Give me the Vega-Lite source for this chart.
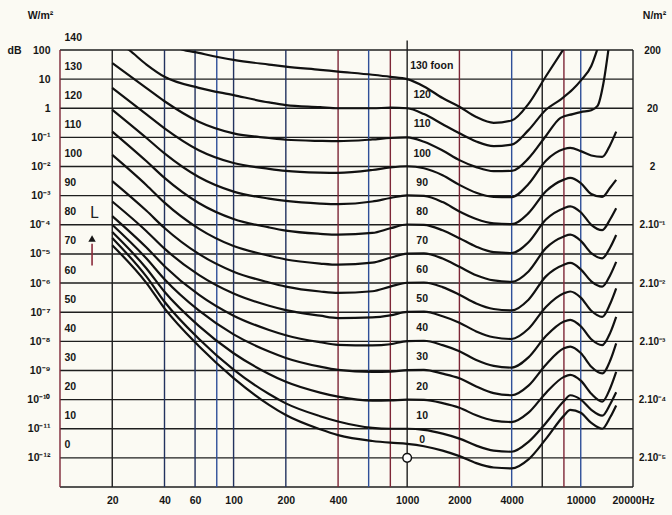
{
  "$schema": "https://vega.github.io/schema/vega-lite/v6.json",
  "width": 573,
  "height": 437,
  "autosize": {"type": "none"},
  "padding": {"left": 60, "top": 50, "right": 39, "bottom": 28},
  "background": "#fbfaf3",
  "config": {
    "view": {"stroke": null},
    "font": "Liberation Sans",
    "axis": {"domain": false, "ticks": false, "grid": false, "labelFont": "Liberation Sans", "labelFontWeight": "bold", "labelFontSize": 10.5, "labelColor": "#161616", "titleFont": "Liberation Sans", "titleFontWeight": "bold", "titleFontSize": 10.5, "titleColor": "#161616", "labelOverlap": false, "labelFlush": false}
  },
  "datasets": {
    "levels": [{"d":-10},{"d":0},{"d":10},{"d":20},{"d":30},{"d":40},{"d":50},{"d":60},{"d":70},{"d":80},{"d":90},{"d":100},{"d":110},{"d":120},{"d":130},{"d":140}],
    "vblack": [{"f":20},{"f":1000},{"f":6000},{"f":20000}],
    "vnavy": [{"f":40},{"f":60},{"f":100},{"f":200}],
    "vblue": [{"f":80},{"f":600},{"f":4000},{"f":10000}],
    "vmaroon": [{"f":10},{"f":400},{"f":800},{"f":2000},{"f":8000}],
    "stub": [{"f":1000,"lo":140,"hi":143.3}],
    "labels": [{"t":"120","d":120},{"t":"110","d":110},{"t":"100","d":100},{"t":"90","d":90},{"t":"80","d":80},{"t":"70","d":70},{"t":"60","d":60},{"t":"50","d":50},{"t":"40","d":40},{"t":"30","d":30},{"t":"20","d":20},{"t":"10","d":10},{"t":"0","d":1.5}],
    "foon": [{"t":"130 foon","d":130}],
    "ref": [{"f":1000,"d":0}],
    "ann": [{"f":15.3,"lo":66,"hi":73.5,"tip":75.3,"lab":84.2,"t":"L"}],
    "curves": [
      {"p":0,"f":20,"d":73},{"p":0,"f":31.5,"d":60},{"p":0,"f":40,"d":51.3},{"p":0,"f":63,"d":38.4},{"p":0,"f":100,"d":27.4},{"p":0,"f":160,"d":18.2},{"p":0,"f":200,"d":14.7},{"p":0,"f":315,"d":9.8},{"p":0,"f":400,"d":7.8},{"p":0,"f":630,"d":5.8},{"p":0,"f":800,"d":5.2},{"p":0,"f":1000,"d":4.8},{"p":0,"f":1250,"d":4},{"p":0,"f":1600,"d":2.5},{"p":0,"f":2000,"d":0.6},{"p":0,"f":2500,"d":-1.8},{"p":0,"f":3150,"d":-3.3},{"p":0,"f":4000,"d":-3.6},{"p":0,"f":5000,"d":-0.5},{"p":0,"f":6300,"d":6.5},{"p":0,"f":8000,"d":14.5},{"p":0,"f":8700,"d":16.5},{"p":0,"f":10000,"d":15.5},{"p":0,"f":11500,"d":12},{"p":0,"f":13300,"d":10},{"p":0,"f":14800,"d":14},{"p":0,"f":16000,"d":18},
      {"p":10,"f":20,"d":75.5},{"p":10,"f":31.5,"d":62.2},{"p":10,"f":40,"d":53.6},{"p":10,"f":63,"d":40.9},{"p":10,"f":100,"d":30.3},{"p":10,"f":160,"d":21.9},{"p":10,"f":200,"d":18.7},{"p":10,"f":315,"d":14.3},{"p":10,"f":400,"d":12.5},{"p":10,"f":630,"d":10.3},{"p":10,"f":800,"d":10},{"p":10,"f":1000,"d":10},{"p":10,"f":1250,"d":9.6},{"p":10,"f":1600,"d":8.3},{"p":10,"f":2000,"d":6.6},{"p":10,"f":2500,"d":4.2},{"p":10,"f":3150,"d":2.5},{"p":10,"f":4000,"d":2.1},{"p":10,"f":5000,"d":5.5},{"p":10,"f":6300,"d":12},{"p":10,"f":8000,"d":19.5},{"p":10,"f":8700,"d":21.5},{"p":10,"f":10000,"d":20},{"p":10,"f":11500,"d":16.5},{"p":10,"f":13300,"d":14.5},{"p":10,"f":14800,"d":18.5},{"p":10,"f":16000,"d":22.5},
      {"p":20,"f":20,"d":77.5},{"p":20,"f":31.5,"d":65},{"p":20,"f":40,"d":57},{"p":20,"f":63,"d":45.3},{"p":20,"f":100,"d":35.9},{"p":20,"f":160,"d":28.8},{"p":20,"f":200,"d":26.1},{"p":20,"f":315,"d":22.4},{"p":20,"f":400,"d":21},{"p":20,"f":630,"d":19.6},{"p":20,"f":800,"d":19.7},{"p":20,"f":1000,"d":20},{"p":20,"f":1250,"d":19.9},{"p":20,"f":1600,"d":18.8},{"p":20,"f":2000,"d":17.2},{"p":20,"f":2500,"d":14.6},{"p":20,"f":3150,"d":12.8},{"p":20,"f":4000,"d":12.3},{"p":20,"f":5000,"d":15.5},{"p":20,"f":6300,"d":22.3},{"p":20,"f":8000,"d":27.8},{"p":20,"f":8700,"d":28.5},{"p":20,"f":10000,"d":26.5},{"p":20,"f":11500,"d":22},{"p":20,"f":13300,"d":19.3},{"p":20,"f":14800,"d":24},{"p":20,"f":16000,"d":29.5},
      {"p":30,"f":20,"d":80},{"p":30,"f":31.5,"d":68.4},{"p":30,"f":40,"d":61.3},{"p":30,"f":63,"d":50.6},{"p":30,"f":100,"d":42.4},{"p":30,"f":160,"d":36.5},{"p":30,"f":200,"d":34.3},{"p":30,"f":315,"d":31.3},{"p":30,"f":400,"d":30.2},{"p":30,"f":630,"d":29.5},{"p":30,"f":800,"d":29.6},{"p":30,"f":1000,"d":30.1},{"p":30,"f":1250,"d":30.2},{"p":30,"f":1600,"d":28.9},{"p":30,"f":2000,"d":27.3},{"p":30,"f":2500,"d":24.5},{"p":30,"f":3150,"d":22.2},{"p":30,"f":4000,"d":21.5},{"p":30,"f":5000,"d":24.8},{"p":30,"f":6300,"d":32},{"p":30,"f":8000,"d":37.6},{"p":30,"f":8700,"d":38.2},{"p":30,"f":10000,"d":36},{"p":30,"f":11500,"d":31.3},{"p":30,"f":13300,"d":29},{"p":30,"f":14800,"d":33.5},{"p":30,"f":16000,"d":39.3},
      {"p":40,"f":20,"d":83},{"p":40,"f":31.5,"d":72.2},{"p":40,"f":40,"d":65.8},{"p":40,"f":63,"d":56},{"p":40,"f":100,"d":48.8},{"p":40,"f":160,"d":43.9},{"p":40,"f":200,"d":42.1},{"p":40,"f":315,"d":39.7},{"p":40,"f":400,"d":38.8},{"p":40,"f":630,"d":38.6},{"p":40,"f":800,"d":39},{"p":40,"f":1000,"d":40.1},{"p":40,"f":1250,"d":40.2},{"p":40,"f":1600,"d":38.7},{"p":40,"f":2000,"d":36.6},{"p":40,"f":2500,"d":33.6},{"p":40,"f":3150,"d":31.6},{"p":40,"f":4000,"d":31},{"p":40,"f":5000,"d":34.5},{"p":40,"f":6300,"d":41.8},{"p":40,"f":8000,"d":46.8},{"p":40,"f":8700,"d":47.4},{"p":40,"f":10000,"d":45.2},{"p":40,"f":11500,"d":40.7},{"p":40,"f":13300,"d":38.7},{"p":40,"f":14800,"d":43},{"p":40,"f":16000,"d":48.4},
      {"p":50,"f":20,"d":88},{"p":50,"f":31.5,"d":77.8},{"p":50,"f":40,"d":71.8},{"p":50,"f":63,"d":62.8},{"p":50,"f":100,"d":56.4},{"p":50,"f":160,"d":52.2},{"p":50,"f":200,"d":50.7},{"p":50,"f":315,"d":48.8},{"p":50,"f":400,"d":48},{"p":50,"f":630,"d":48.2},{"p":50,"f":800,"d":48.9},{"p":50,"f":1000,"d":50.1},{"p":50,"f":1250,"d":50.2},{"p":50,"f":1600,"d":48.6},{"p":50,"f":2000,"d":46.4},{"p":50,"f":2500,"d":43.4},{"p":50,"f":3150,"d":41.4},{"p":50,"f":4000,"d":40.8},{"p":50,"f":5000,"d":44.3},{"p":50,"f":6300,"d":51.8},{"p":50,"f":8000,"d":56.5},{"p":50,"f":8700,"d":57.1},{"p":50,"f":10000,"d":55},{"p":50,"f":11500,"d":50.5},{"p":50,"f":13300,"d":48.4},{"p":50,"f":14800,"d":53},{"p":50,"f":16000,"d":58.2},
      {"p":60,"f":20,"d":95},{"p":60,"f":31.5,"d":84.8},{"p":60,"f":40,"d":78.9},{"p":60,"f":63,"d":70},{"p":60,"f":100,"d":63.9},{"p":60,"f":160,"d":60.2},{"p":60,"f":200,"d":58.8},{"p":60,"f":315,"d":57.1},{"p":60,"f":400,"d":56.6},{"p":60,"f":630,"d":57.2},{"p":60,"f":800,"d":58.8},{"p":60,"f":1000,"d":60.1},{"p":60,"f":1250,"d":60.2},{"p":60,"f":1600,"d":58.6},{"p":60,"f":2000,"d":56},{"p":60,"f":2500,"d":53},{"p":60,"f":3150,"d":51.1},{"p":60,"f":4000,"d":50.6},{"p":60,"f":5000,"d":54.3},{"p":60,"f":6300,"d":62.3},{"p":60,"f":8000,"d":66.3},{"p":60,"f":8700,"d":66.9},{"p":60,"f":10000,"d":64.7},{"p":60,"f":11500,"d":60.6},{"p":60,"f":13300,"d":58.8},{"p":60,"f":14800,"d":62.8},{"p":60,"f":16000,"d":67.3},
      {"p":70,"f":20,"d":104},{"p":70,"f":31.5,"d":93.6},{"p":70,"f":40,"d":87.6},{"p":70,"f":63,"d":78.7},{"p":70,"f":100,"d":72.7},{"p":70,"f":160,"d":69.4},{"p":70,"f":200,"d":68.1},{"p":70,"f":315,"d":66.7},{"p":70,"f":400,"d":66.3},{"p":70,"f":630,"d":67},{"p":70,"f":800,"d":68.7},{"p":70,"f":1000,"d":70.1},{"p":70,"f":1250,"d":70.2},{"p":70,"f":1600,"d":68.4},{"p":70,"f":2000,"d":65.6},{"p":70,"f":2500,"d":62.7},{"p":70,"f":3150,"d":60.9},{"p":70,"f":4000,"d":60.4},{"p":70,"f":5000,"d":64},{"p":70,"f":6300,"d":72},{"p":70,"f":8000,"d":76},{"p":70,"f":8700,"d":76.6},{"p":70,"f":10000,"d":74.5},{"p":70,"f":11500,"d":70.3},{"p":70,"f":13300,"d":68.5},{"p":70,"f":14800,"d":72.3},{"p":70,"f":16000,"d":76.5},
      {"p":80,"f":20,"d":112},{"p":80,"f":31.5,"d":101.8},{"p":80,"f":40,"d":96.1},{"p":80,"f":63,"d":87.5},{"p":80,"f":100,"d":82},{"p":80,"f":160,"d":79.1},{"p":80,"f":200,"d":78},{"p":80,"f":315,"d":76.9},{"p":80,"f":400,"d":76.6},{"p":80,"f":630,"d":77.2},{"p":80,"f":800,"d":78.8},{"p":80,"f":1000,"d":80.1},{"p":80,"f":1250,"d":80},{"p":80,"f":1600,"d":78.1},{"p":80,"f":2000,"d":75.4},{"p":80,"f":2500,"d":72.5},{"p":80,"f":3150,"d":70.6},{"p":80,"f":4000,"d":70.3},{"p":80,"f":5000,"d":74},{"p":80,"f":6300,"d":81.8},{"p":80,"f":8000,"d":85.7},{"p":80,"f":8700,"d":86.3},{"p":80,"f":10000,"d":84.3},{"p":80,"f":11500,"d":80},{"p":80,"f":13300,"d":78.2},{"p":80,"f":14800,"d":82},{"p":80,"f":16000,"d":85.7},
      {"p":90,"f":20,"d":119.5},{"p":90,"f":31.5,"d":109.8},{"p":90,"f":40,"d":104.5},{"p":90,"f":63,"d":96.4},{"p":90,"f":100,"d":91.4},{"p":90,"f":160,"d":89},{"p":90,"f":200,"d":88.2},{"p":90,"f":315,"d":87.3},{"p":90,"f":400,"d":87.1},{"p":90,"f":630,"d":88},{"p":90,"f":800,"d":89.2},{"p":90,"f":1000,"d":90.1},{"p":90,"f":1250,"d":89.9},{"p":90,"f":1600,"d":87.8},{"p":90,"f":2000,"d":84.6},{"p":90,"f":2500,"d":82},{"p":90,"f":3150,"d":80.5},{"p":90,"f":4000,"d":80.2},{"p":90,"f":5000,"d":84},{"p":90,"f":6300,"d":91.5},{"p":90,"f":8000,"d":95.5},{"p":90,"f":8700,"d":96.1},{"p":90,"f":10000,"d":94.3},{"p":90,"f":11500,"d":90.6},{"p":90,"f":13300,"d":89.6},{"p":90,"f":14800,"d":92.8},{"p":90,"f":16000,"d":95.4},
      {"p":100,"f":20,"d":127},{"p":100,"f":31.5,"d":117.9},{"p":100,"f":40,"d":113.1},{"p":100,"f":63,"d":105.6},{"p":100,"f":100,"d":101.2},{"p":100,"f":160,"d":99.2},{"p":100,"f":200,"d":98.5},{"p":100,"f":315,"d":97.9},{"p":100,"f":400,"d":97.8},{"p":100,"f":630,"d":98.8},{"p":100,"f":800,"d":99.7},{"p":100,"f":1000,"d":100.1},{"p":100,"f":1250,"d":99.4},{"p":100,"f":1600,"d":97},{"p":100,"f":2000,"d":93.7},{"p":100,"f":2500,"d":91},{"p":100,"f":3150,"d":89.6},{"p":100,"f":4000,"d":89.5},{"p":100,"f":5000,"d":94},{"p":100,"f":6300,"d":102},{"p":100,"f":8000,"d":106},{"p":100,"f":8700,"d":106.4},{"p":100,"f":10000,"d":105.3},{"p":100,"f":11500,"d":103.8},{"p":100,"f":13300,"d":103.3},{"p":100,"f":14800,"d":107.5},{"p":100,"f":16000,"d":112},
      {"p":110,"f":20,"d":135.5},{"p":110,"f":31.5,"d":126.9},{"p":110,"f":40,"d":122.4},{"p":110,"f":63,"d":115.4},{"p":110,"f":100,"d":111.4},{"p":110,"f":160,"d":109.8},{"p":110,"f":200,"d":109.2},{"p":110,"f":315,"d":108.8},{"p":110,"f":400,"d":108.7},{"p":110,"f":630,"d":109.3},{"p":110,"f":800,"d":109.8},{"p":110,"f":1000,"d":110},{"p":110,"f":1250,"d":108.5},{"p":110,"f":1600,"d":105.5},{"p":110,"f":2000,"d":102.2},{"p":110,"f":2500,"d":99.8},{"p":110,"f":3150,"d":98.4},{"p":110,"f":4000,"d":98.5},{"p":110,"f":5000,"d":102.8},{"p":110,"f":6300,"d":110.5},{"p":110,"f":7650,"d":116.7},{"p":110,"f":9000,"d":118},{"p":110,"f":10000,"d":118.7},{"p":110,"f":11500,"d":119.3},{"p":110,"f":12500,"d":120.8},{"p":110,"f":13500,"d":128.5},{"p":110,"f":14500,"d":141},
      {"p":120,"f":20,"d":144},{"p":120,"f":25,"d":140},{"p":120,"f":31.5,"d":135},{"p":120,"f":40,"d":130.8},{"p":120,"f":63,"d":127},{"p":120,"f":100,"d":124.5},{"p":120,"f":160,"d":122},{"p":120,"f":200,"d":121.1},{"p":120,"f":315,"d":120.4},{"p":120,"f":400,"d":120},{"p":120,"f":630,"d":120},{"p":120,"f":800,"d":120.2},{"p":120,"f":1000,"d":120},{"p":120,"f":1250,"d":118},{"p":120,"f":1600,"d":114.5},{"p":120,"f":2000,"d":111.4},{"p":120,"f":2500,"d":108.6},{"p":120,"f":3150,"d":107},{"p":120,"f":4000,"d":107.5},{"p":120,"f":5000,"d":112.5},{"p":120,"f":6300,"d":119.5},{"p":120,"f":7650,"d":123},{"p":120,"f":9000,"d":126.5},{"p":120,"f":10000,"d":129.5},{"p":120,"f":11500,"d":134.5},{"p":120,"f":12500,"d":140.5},
      {"p":130,"f":40,"d":143},{"p":130,"f":50,"d":140.3},{"p":130,"f":63,"d":139},{"p":130,"f":100,"d":136.6},{"p":130,"f":160,"d":135},{"p":130,"f":200,"d":134.3},{"p":130,"f":315,"d":133.2},{"p":130,"f":400,"d":132.6},{"p":130,"f":630,"d":131.5},{"p":130,"f":800,"d":130.8},{"p":130,"f":1000,"d":130},{"p":130,"f":1250,"d":127.5},{"p":130,"f":1600,"d":123.5},{"p":130,"f":2000,"d":120.5},{"p":130,"f":2500,"d":117},{"p":130,"f":3150,"d":115},{"p":130,"f":4000,"d":115.8},{"p":130,"f":5000,"d":121.5},{"p":130,"f":6300,"d":131},{"p":130,"f":8000,"d":140.5}
    ]
  },
  "layer": [
    {
      "data": {"name": "levels"},
      "mark": {"type": "rule", "color": "#1e1e1e", "strokeWidth": 1.4},
      "encoding": {
        "y": {"field": "d", "type": "quantitative", "scale": {"domain": [-10, 140], "nice": false, "zero": false},
          "axis": {"orient": "left", "values": [0,10,20,30,40,50,60,70,80,90,100,110,120,130,140],
            "labelExpr": "['10⁻¹²','10⁻¹¹','10⁻¹⁰','10⁻⁹','10⁻⁸','10⁻⁷','10⁻⁶','10⁻⁵','10⁻⁴','10⁻³','10⁻²','10⁻¹','1','10','100'][round(datum.value/10)]",
            "labelAlign": "right", "labelPadding": 10, "labelFontSize": 10.5,
            "title": "W/m²", "titleAngle": 0, "titleX": -20, "titleY": -35, "titleAlign": "center", "titleBaseline": "middle"}}
      }
    },
    {
      "data": {"name": "vblack"},
      "mark": {"type": "rule", "color": "#1e1e1e", "strokeWidth": 1.4},
      "encoding": {"x": {"field": "f", "type": "quantitative", "scale": {"type": "log", "domain": [10, 20000], "nice": false},
          "axis": {"orient": "bottom", "values": [20,40,60,100,200,400,1000,2000,4000,10000,20000],
            "labelExpr": "datum.value >= 20000 ? '20000Hz' : format(datum.value, 'd')",
            "labelPadding": 8, "labelBaseline": "top", "labelFlush": false, "title": null}}}
    },
    {
      "data": {"name": "vnavy"},
      "mark": {"type": "rule", "color": "#22325e", "strokeWidth": 1.4},
      "encoding": {"x": {"field": "f", "type": "quantitative", "scale": {"type": "log", "domain": [10, 20000], "nice": false}, "axis": null}}
    },
    {
      "data": {"name": "vblue"},
      "mark": {"type": "rule", "color": "#2f4f98", "strokeWidth": 1.4},
      "encoding": {"x": {"field": "f", "type": "quantitative", "scale": {"type": "log", "domain": [10, 20000], "nice": false}, "axis": null}}
    },
    {
      "data": {"name": "vmaroon"},
      "mark": {"type": "rule", "color": "#7d2636", "strokeWidth": 1.4},
      "encoding": {"x": {"field": "f", "type": "quantitative", "scale": {"type": "log", "domain": [10, 20000], "nice": false}, "axis": null}}
    },
    {
      "data": {"name": "stub"},
      "mark": {"type": "rule", "color": "#1e1e1e", "strokeWidth": 1.4},
      "encoding": {
        "x": {"field": "f", "type": "quantitative", "scale": {"type": "log", "domain": [10, 20000], "nice": false}, "axis": null},
        "y": {"field": "lo", "type": "quantitative", "scale": {"domain": [-10, 140], "nice": false, "zero": false}, "axis": null},
        "y2": {"field": "hi"}
      }
    },
    {
      "data": {"name": "curves"},
      "mark": {"type": "line", "interpolate": "monotone", "color": "#111111", "strokeWidth": 2.2, "clip": true},
      "encoding": {
        "x": {"field": "f", "type": "quantitative", "scale": {"type": "log", "domain": [10, 20000], "nice": false}, "axis": null},
        "y": {"field": "d", "type": "quantitative", "scale": {"domain": [-10, 140], "nice": false, "zero": false},
          "axis": {"orient": "left", "values": [0,10,20,30,40,50,60,70,80,90,100,110,120,130,140],
            "labelAlign": "left", "labelPadding": -4, "labelOffset": -13,
            "title": "dB", "titleAngle": 0, "titleX": -53, "titleY": 0, "titleAlign": "left", "titleBaseline": "middle"}},
        "detail": {"field": "p", "type": "nominal"}
      }
    },
    {
      "data": {"name": "labels"},
      "mark": {"type": "text", "font": "Liberation Sans", "fontWeight": "bold", "fontSize": 10.5, "color": "#161616", "align": "center", "baseline": "middle", "dx": 15, "dy": -13},
      "encoding": {
        "x": {"datum": 1000, "type": "quantitative", "scale": {"type": "log", "domain": [10, 20000], "nice": false}, "axis": null},
        "y": {"field": "d", "type": "quantitative", "scale": {"domain": [-10, 140], "nice": false, "zero": false}, "axis": null},
        "text": {"field": "t"}
      }
    },
    {
      "data": {"name": "foon"},
      "mark": {"type": "text", "font": "Liberation Sans", "fontWeight": "bold", "fontSize": 10.5, "color": "#161616", "align": "left", "baseline": "middle", "dx": 3, "dy": -13},
      "encoding": {
        "x": {"datum": 1000, "type": "quantitative", "scale": {"type": "log", "domain": [10, 20000], "nice": false}, "axis": null},
        "y": {"field": "d", "type": "quantitative", "scale": {"domain": [-10, 140], "nice": false, "zero": false}, "axis": null},
        "text": {"field": "t"}
      }
    },
    {
      "data": {"name": "ann"},
      "mark": {"type": "rule", "color": "#8a2a3a", "strokeWidth": 1.6},
      "encoding": {
        "x": {"field": "f", "type": "quantitative", "scale": {"type": "log", "domain": [10, 20000], "nice": false}, "axis": null},
        "y": {"field": "lo", "type": "quantitative", "scale": {"domain": [-10, 140], "nice": false, "zero": false}, "axis": null},
        "y2": {"field": "hi"}
      }
    },
    {
      "data": {"name": "ann"},
      "mark": {"type": "point", "shape": "triangle-up", "filled": true, "color": "#161616", "size": 55, "opacity": 1},
      "encoding": {
        "x": {"field": "f", "type": "quantitative", "scale": {"type": "log", "domain": [10, 20000], "nice": false}, "axis": null},
        "y": {"field": "tip", "type": "quantitative", "scale": {"domain": [-10, 140], "nice": false, "zero": false}, "axis": null}
      }
    },
    {
      "data": {"name": "ann"},
      "mark": {"type": "text", "font": "DejaVu Sans", "fontSize": 15, "color": "#222222", "align": "center", "baseline": "middle", "dx": 2},
      "encoding": {
        "x": {"field": "f", "type": "quantitative", "scale": {"type": "log", "domain": [10, 20000], "nice": false}, "axis": null},
        "y": {"field": "lab", "type": "quantitative", "scale": {"domain": [-10, 140], "nice": false, "zero": false}, "axis": null},
        "text": {"field": "t"}
      }
    },
    {
      "data": {"name": "ref"},
      "mark": {"type": "point", "shape": "circle", "filled": true, "fill": "#ffffff", "stroke": "#111111", "strokeWidth": 1.5, "size": 75, "opacity": 1},
      "encoding": {
        "x": {"field": "f", "type": "quantitative", "scale": {"type": "log", "domain": [10, 20000], "nice": false}, "axis": null},
        "y": {"field": "d", "type": "quantitative", "scale": {"domain": [-10, 140], "nice": false, "zero": false},
          "axis": {"orient": "right", "values": [0,20,40,60,80,100,120,140],
            "labelExpr": "['2.10⁻⁵','2.10⁻⁴','2.10⁻³','2.10⁻²','2.10⁻¹','2','20','200'][round(datum.value/20)]",
            "labelAlign": "center", "labelPadding": 19, "labelFontSize": 10,
            "title": "N/m²", "titleAngle": 0, "titleX": 21, "titleY": -35, "titleAlign": "center", "titleBaseline": "middle"}}
      }
    }
  ],
  "resolve": {"scale": {"y": "independent"}, "axis": {"x": "independent"}}
}
